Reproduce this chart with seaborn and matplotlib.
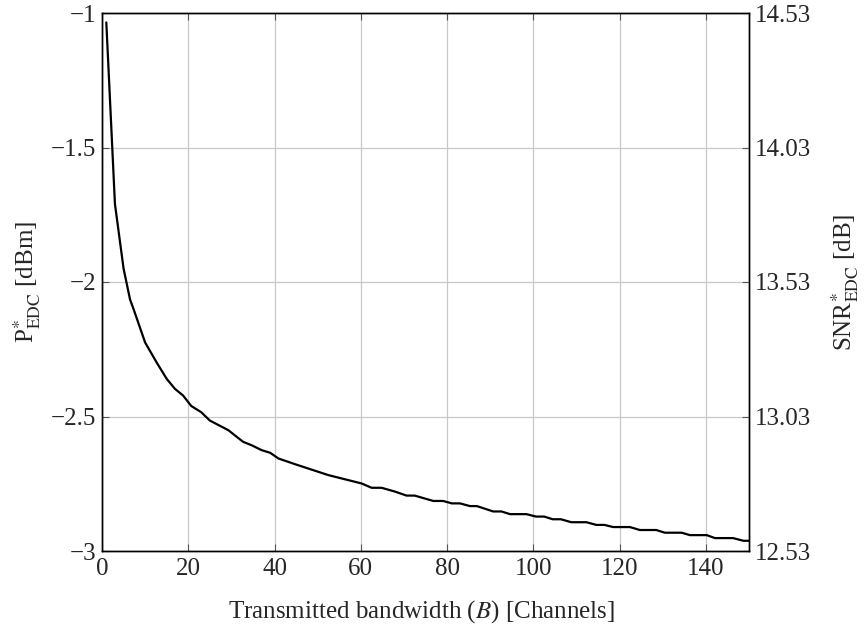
import matplotlib
matplotlib.use("Agg")
import matplotlib.pyplot as plt
import seaborn as sns
import pandas as pd

# Data
bandwidth = [1, 3, 5, 6.5, 7.3, 10, 12.7, 15, 16.9, 18.8, 20.7, 23, 25, 29.3, 32.7, 34.7,
             37, 39, 40.9, 44.7, 52.5, 60.2, 62.5, 64.8, 67.9, 70.6, 72.5, 76.8, 79.1,
             81.1, 83, 85.3, 86.9, 90.7, 92.6, 94.6, 98.4, 100.6, 102.5, 104.5, 106.4,
             108.8, 112.3, 114.6, 116.5, 118.5, 122.4, 124.7, 128.5, 130.5, 134.4,
             136.3, 140.2, 142.1, 146.3, 148.7, 150]
p_edc = [-1.035, -1.71, -1.95, -2.065, -2.10, -2.225, -2.30, -2.36, -2.397, -2.422,
         -2.461, -2.484, -2.515, -2.551, -2.594, -2.607, -2.625, -2.635, -2.656, -2.677,
         -2.718, -2.749, -2.765, -2.765, -2.779, -2.794, -2.794, -2.814, -2.814,
         -2.823, -2.823, -2.833, -2.833, -2.853, -2.853, -2.863, -2.863, -2.872, -2.872,
         -2.882, -2.882, -2.893, -2.893, -2.903, -2.903, -2.911, -2.911, -2.922, -2.922,
         -2.932, -2.932, -2.941, -2.941, -2.952, -2.952, -2.962, -2.962]
left_ticks = [-3, -2.5, -2, -1.5, -1]
left_labels = ["\u22123", "\u22122.5", "\u22122", "\u22121.5", "\u22121"]
right_ticks = [12.53, 13.03, 13.53, 14.03, 14.53]
x_ticks = [0, 20, 40, 60, 80, 100, 120, 140]

sns.set_style("white")
plt.rcParams["font.family"] = ["Liberation Serif", "DejaVu Serif"]
plt.rcParams["mathtext.fontset"] = "stix"

FS = 18
fig = plt.figure(figsize=(8.66, 6.32), dpi=100)
ax = fig.add_axes([102/866, 1-551/632, (749-102)/866, (551-13)/632])

df = pd.DataFrame({"B": bandwidth, "P": p_edc})
sns.lineplot(data=df, x="B", y="P", ax=ax, color="black", linewidth=1.6, sort=False)

ax.set_xlim(0, 150)
ax.set_ylim(-3, -1)
ax.set_xticks(x_ticks)
ax.set_yticks(left_ticks)
ax.set_yticklabels(left_labels)
ax.grid(True, color="#c8c8c8", linewidth=0.9)
ax.set_axisbelow(True)
ax.tick_params(direction="in", length=5, color="#555555", labelsize=FS,
               top=True, bottom=True, left=True, right=False)
ax.tick_params(axis="x", pad=5)
ax.tick_params(axis="y", pad=4.3)
ax.set_xlabel("Transmitted bandwidth ($B$) [Channels]", fontsize=FS)
ax.set_ylabel("P$^{*}_{\\mathrm{EDC}}$ [dBm]", fontsize=FS)
ax.xaxis.set_label_coords(0.494, -0.087)
ax.yaxis.set_label_coords(-0.091, 0.5)
for s in ax.spines.values():
    s.set_color("black")
    s.set_linewidth(1.0)

ax2 = ax.twinx()
ax2.set_ylim(12.53, 14.53)
ax2.set_yticks(right_ticks)
ax2.set_yticklabels([f"{v:.2f}" for v in right_ticks])
ax2.tick_params(direction="in", length=5, color="#555555", labelsize=FS, pad=4.3)
ax2.set_ylabel("SNR$^{*}_{\\mathrm{EDC}}$ [dB]", fontsize=FS)
ax2.yaxis.set_label_coords(1.125, 0.5)
for s in ax2.spines.values():
    s.set_color("black")
    s.set_linewidth(1.0)

fig.savefig("out.png", dpi=100)
